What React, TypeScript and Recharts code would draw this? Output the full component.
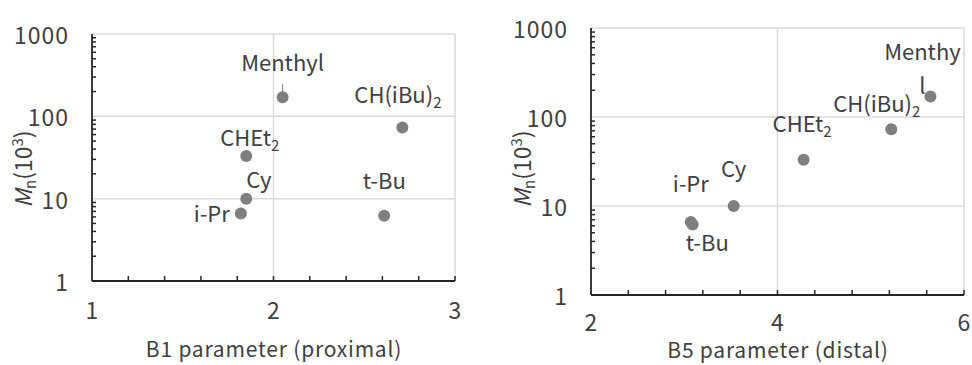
import React from 'react'
import {
  ScatterChart,
  Scatter,
  XAxis,
  YAxis,
  ReferenceLine,
} from 'recharts'

// substituents and their steric parameters vs Mn (x10^3)
const names = ['i-Pr', 'Cy', 'CHEt2', 't-Bu', 'CH(iBu)2', 'Menthyl']
const b1 = [1.82, 1.85, 1.85, 2.61, 2.71, 2.05]
const b5 = [3.07, 3.53, 4.28, 3.09, 5.22, 5.64]
const mn = [6.6, 10, 33, 6.2, 73, 170]

const b1Ticks = [1, 1.2, 1.4, 1.6, 1.8, 2, 2.2, 2.4, 2.6, 2.8, 3]
const b5Ticks = [2, 2.4, 2.8, 3.2, 3.6, 4, 4.4, 4.8, 5.2, 5.6, 6]
const mnTicks = [
  1, 2, 3, 4, 5, 6, 7, 8, 9,
  10, 20, 30, 40, 50, 60, 70, 80, 90,
  100, 200, 300, 400, 500, 600, 700, 800, 900,
  1000,
]
const mnMajor = [1, 10, 100, 1000]

const FONT = '"Noto Sans CJK JP", "Noto Sans", sans-serif'
const TEXT = '#404040'
const AXIS = '#262626'
const GRID = '#d9d9d9'
const DOT = '#7f7f7f'

type LabelPos = { dx: number; dy: number; anchor: 'start' | 'middle' | 'end'; lines?: string[]; leader?: boolean }

const leftLabels: Record<string, LabelPos> = {
  'i-Pr': { dx: -11, dy: 8, anchor: 'end' },
  Cy: { dx: 0, dy: -11, anchor: 'start' },
  CHEt2: { dx: -26, dy: -10, anchor: 'start' },
  't-Bu': { dx: 0, dy: -27, anchor: 'middle' },
  'CH(iBu)2': { dx: -48, dy: -25, anchor: 'start' },
  Menthyl: { dx: 0, dy: -26, anchor: 'middle', leader: true },
}

const rightLabels: Record<string, LabelPos> = {
  'i-Pr': { dx: 0, dy: -30, anchor: 'middle' },
  Cy: { dx: 0, dy: -29, anchor: 'middle' },
  CHEt2: { dx: -31, dy: -28, anchor: 'start' },
  't-Bu': { dx: -7, dy: 27, anchor: 'start' },
  'CH(iBu)2': { dx: -58, dy: -17, anchor: 'start' },
  Menthyl: { dx: -8, dy: -36, anchor: 'middle', lines: ['Menthy', 'l'] },
}

function labelText(name: string) {
  if (name.endsWith('2')) {
    return (
      <>
        {name.slice(0, -1)}
        <tspan fontSize={15} dy={5}>2</tspan>
      </>
    )
  }
  return name
}

function makeShape(pos: Record<string, LabelPos>) {
  return (props: any) => {
    const { cx, cy, payload } = props
    const p = pos[payload.name]
    return (
      <g>
        <circle cx={cx} cy={cy} r={6} fill={DOT} />
        {p.leader && (
          <line x1={cx} y1={cy - 13} x2={cx} y2={cy - 5} stroke={DOT} strokeWidth={1} />
        )}
        <text
          x={cx + p.dx}
          y={cy + p.dy}
          textAnchor={p.anchor}
          fontSize={22}
          fill={TEXT}
          fontFamily={FONT}
        >
          {p.lines
            ? p.lines.map((l, i) => (
                <tspan key={i} x={cx + p.dx} dy={i === 0 ? 0 : 34}>{l}</tspan>
              ))
            : labelText(payload.name)}
        </text>
      </g>
    )
  }
}

const YTick = (props: any) => {
  const { x, y, payload } = props
  const v = payload.value
  if (mnMajor.includes(v)) {
    return (
      <text x={x - 23} y={y} textAnchor="end" dominantBaseline="central" fontSize={23} letterSpacing={1} fill={TEXT} fontFamily={FONT}>
        {v}
      </text>
    )
  }
  return <line x1={x} y1={y} x2={x + 4} y2={y} stroke={AXIS} strokeWidth={1.5} />
}

const makeXTick = (first: number, drop: number) => (props: any) => {
  const { x, y, payload } = props
  const v = payload.value
  const labelled = first === 1 ? Number.isInteger(v) : Number.isInteger(v) && v % 2 === 0
  return (
    <g>
      {v !== first && <line x1={x} y1={y} x2={x} y2={y - 5} stroke={AXIS} strokeWidth={1.5} />}
      {labelled && (
        <text x={x} y={y + drop} textAnchor="middle" fontSize={23} fill={TEXT} fontFamily={FONT}>
          {v}
        </text>
      )}
    </g>
  )
}

const leftData = names.map((n, i) => ({ name: n, x: b1[i], y: mn[i] }))
const rightData = names.map((n, i) => ({ name: n, x: b5[i], y: mn[i] }))

function YLabel({ x, y }: { x: number; y: number }) {
  return (
    <text
      x={x}
      y={y}
      transform={`rotate(-90, ${x}, ${y})`}
      textAnchor="middle"
      fontSize={23}
      fill={TEXT}
      fontFamily={FONT}
    >
      <tspan fontStyle="italic">M</tspan>
      <tspan fontSize={15} dy={4}>n</tspan>
      <tspan dy={-4}>(10</tspan>
      <tspan fontSize={15} dy={-9}>3</tspan>
      <tspan dy={9}>)</tspan>
    </text>
  )
}

export default function App() {
  return (
    <div style={{ position: 'absolute', left: 0, top: 0, width: 972, height: 365, background: '#fff', overflow: 'hidden' }}>
      <div style={{ position: 'absolute', left: 0, top: 0 }}>
        <ScatterChart width={486} height={365} margin={{ top: 34, right: 31, bottom: 44, left: 32 }}>
          <XAxis
            type="number"
            dataKey="x"
            domain={[1, 3]}
            ticks={b1Ticks}
            interval={0}
            tickSize={0}
            tickMargin={0}
            tickLine={false}
            height={40}
            tick={makeXTick(1, 38)}
            axisLine={{ stroke: AXIS, strokeWidth: 1.8 }}
          />
          <YAxis
            type="number"
            dataKey="y"
            scale="log"
            domain={[1, 1000]}
            ticks={mnTicks}
            interval={0}
            tickSize={0}
            tickMargin={0}
            tickLine={false}
            width={60}
            tick={YTick}
            axisLine={{ stroke: AXIS, strokeWidth: 1.8 }}
          />
          <ReferenceLine y={10} stroke={GRID} strokeWidth={1.5} />
          <ReferenceLine y={100} stroke={GRID} strokeWidth={1.5} />
          <ReferenceLine y={1000} stroke={GRID} strokeWidth={1.5} />
          <ReferenceLine x={2} stroke={GRID} strokeWidth={1.5} />
          <ReferenceLine x={3} stroke={GRID} strokeWidth={1.5} />
          <Scatter data={leftData} shape={makeShape(leftLabels)} isAnimationActive={false} />
        </ScatterChart>
      </div>
      <div style={{ position: 'absolute', left: 486, top: 0 }}>
        <ScatterChart width={486} height={365} margin={{ top: 28, right: 8, bottom: 30, left: 45 }}>
          <XAxis
            type="number"
            dataKey="x"
            domain={[2, 6]}
            ticks={b5Ticks}
            interval={0}
            tickSize={0}
            tickMargin={0}
            tickLine={false}
            height={40}
            tick={makeXTick(2, 36)}
            axisLine={{ stroke: AXIS, strokeWidth: 1.8 }}
          />
          <YAxis
            type="number"
            dataKey="y"
            scale="log"
            domain={[1, 1000]}
            ticks={mnTicks}
            interval={0}
            tickSize={0}
            tickMargin={0}
            tickLine={false}
            width={60}
            tick={YTick}
            axisLine={{ stroke: AXIS, strokeWidth: 1.8 }}
          />
          <ReferenceLine y={10} stroke={GRID} strokeWidth={1.5} />
          <ReferenceLine y={100} stroke={GRID} strokeWidth={1.5} />
          <ReferenceLine y={1000} stroke={GRID} strokeWidth={1.5} />
          <ReferenceLine x={4} stroke={GRID} strokeWidth={1.5} />
          <ReferenceLine x={6} stroke={GRID} strokeWidth={1.5} />
          <Scatter data={rightData} shape={makeShape(rightLabels)} isAnimationActive={false} />
        </ScatterChart>
      </div>
      <svg width={972} height={365} style={{ position: 'absolute', left: 0, top: 0, pointerEvents: 'none' }}>
        <YLabel x={32} y={169} />
        <YLabel x={531} y={169} />
        <text x={274} y={357} textAnchor="middle" fontSize={21} letterSpacing={0.8} fill={TEXT} fontFamily={FONT}>
          B1 parameter (proximal)
        </text>
        <text x={778} y={358} textAnchor="middle" fontSize={21} letterSpacing={0.8} fill={TEXT} fontFamily={FONT}>
          B5 parameter (distal)
        </text>
      </svg>
    </div>
  )
}
